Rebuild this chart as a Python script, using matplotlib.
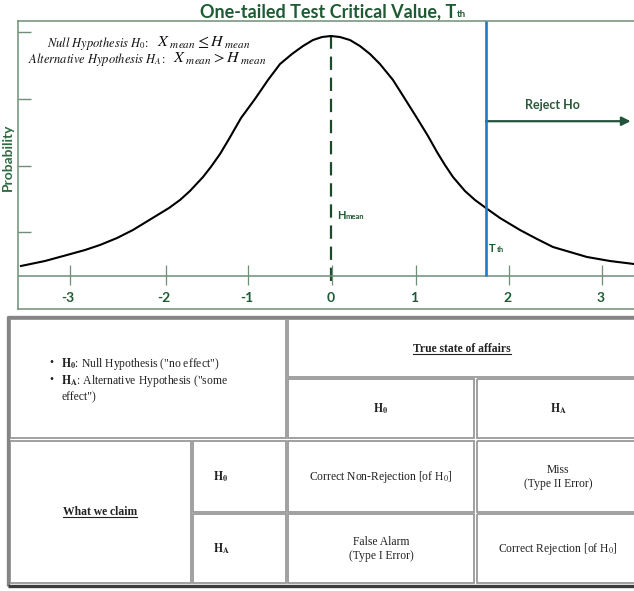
import matplotlib
matplotlib.use('Agg')
import matplotlib.pyplot as plt
from matplotlib.patches import Rectangle
from matplotlib.transforms import IdentityTransform

plt.rcParams['mathtext.fontset'] = 'stix'

# curve (x in sigma units, y arbitrary density)
curve_x = [-3.735, -3.446, -3.181, -2.964, -2.783, -2.578, -2.386, -2.181,
           -1.952, -1.819, -1.699, -1.542, -1.446, -1.337, -1.229, -1.084,
           -0.916, -0.759, -0.614, -0.470, -0.337, -0.217, -0.108, 0.0,
           0.108, 0.229, 0.349, 0.470, 0.590, 0.747, 0.892, 1.036, 1.169,
           1.277, 1.373, 1.470, 1.614, 1.735, 1.867, 2.036, 2.277, 2.482,
           2.675, 2.880, 3.084, 3.361, 3.651]
curve_y = [0.0167, 0.025, 0.035, 0.0433, 0.0517, 0.0633, 0.0767, 0.094,
           0.1133, 0.1267, 0.1417, 0.165, 0.182, 0.2033, 0.2283, 0.2633,
           0.295, 0.3267, 0.3533, 0.370, 0.3833, 0.3933, 0.3983, 0.400,
           0.3983, 0.3933, 0.3833, 0.370, 0.3533, 0.3267, 0.295, 0.2633,
           0.2333, 0.2067, 0.185, 0.165, 0.1417, 0.1267, 0.1133, 0.0967,
           0.0767, 0.0617, 0.0483, 0.040, 0.0317, 0.025, 0.020]
h_mean = 0.0
t_th = 1.867
arrow_end = 3.61
xtick_pos = [-3.145, -1.988, -1.0, 0.012, 1.024, 2.145, 3.265]
xtick_labels = ['-3', '-2', '-1', '0', '1', '2', '3']
ytick_pos = [0.407, 0.295, 0.183, 0.073]

# table text
bullets = [r'$\mathbf{H_0}$: Null Hypothesis ("no effect")',
           r'$\mathbf{H_A}$: Alternative Hypothesis ("some',
           'effect")']
true_header = 'True state of affairs'
claim_header = 'What we claim'
state_labels = [r'$\mathbf{H_0}$', r'$\mathbf{H_A}$']
outcomes = [['Correct Non-Rejection [of H$_0$]', 'Miss\n(Type II Error)'],
            ['False Alarm\n(Type I Error)', 'Correct Rejection [of H$_0$]']]

W, H = 634, 591
GREEN = '#1f5a33'
FRAME = '#6f8f77'

fig = plt.figure(figsize=(W / 100, H / 100), dpi=100)
renderer = fig.canvas.get_renderer()


def text_after(prev, s, gap=1, dy=0, **kw):
    """put a text right after another one, on the same baseline"""
    bb = prev.get_window_extent(renderer)
    x0, y0 = prev.get_transform().transform(prev.get_position())
    return fig.text(bb.x1 + gap, y0 - dy, s, transform=IdentityTransform(),
                    va='baseline', **kw)


def px(x, y):
    return x / W, 1 - y / H


# ---------------- chart ----------------
ax = fig.add_axes([18 / W, 1 - 309 / H, 616 / W, 288 / H])
ax.set_xlim(-3.771, 3.651)
ax.set_ylim(-0.055, 0.425)

ax.plot(curve_x, curve_y, color='black', lw=1.5, zorder=3,
        solid_joinstyle='round')
ax.vlines(h_mean, -0.008, max(curve_y), color='#1c4a2b', lw=1.6,
          linestyles=[(0, (6, 3.5))], zorder=2)
ax.vlines(t_th, 0, 0.425, color='#1f78c8', lw=1.9, zorder=4)
ax.axhline(0, color=FRAME, lw=1.1)
ax.vlines(xtick_pos, -0.015, 0.018, color=FRAME, lw=0.9)
for p, lbl in zip(xtick_pos, xtick_labels):
    ax.text(p - 0.02, -0.036, lbl, ha='center', va='center', color=GREEN,
            fontfamily='Lato', fontweight='bold', fontsize=10)

ax.set_xticks([])
ax.set_yticks(ytick_pos)
ax.tick_params(axis='y', direction='in', length=9, width=1, color=FRAME,
               labelleft=False)
for side in ['left', 'top', 'bottom']:
    ax.spines[side].set_color(FRAME)
    ax.spines[side].set_linewidth(1.1)
ax.spines['right'].set_visible(False)

ax.annotate('', xy=(arrow_end, 0.258), xytext=(t_th, 0.258),
            arrowprops=dict(arrowstyle='-|>', color='#24523a', lw=1.6,
                            mutation_scale=13, shrinkA=0, shrinkB=0))
ax.text((t_th + arrow_end) / 2 - 0.07, 0.285, 'Reject Ho', ha='center',
        va='center', color='#2a5a3a', fontfamily='Lato', fontweight='bold',
        fontsize=9)

hm = ax.text(h_mean + 0.07, 0.095, 'H', color=GREEN, fontfamily='Lato',
             fontweight='bold', fontsize=8, va='baseline')
text_after(hm, 'mean', gap=0.5, color=GREEN, fontfamily='Lato',
           fontweight='bold', fontsize=5.5)
tt = ax.text(t_th + 0.04, 0.04, 'T', color=GREEN, fontfamily='Lato',
             fontweight='bold', fontsize=8, va='baseline')
text_after(tt, 'th', gap=0.5, color=GREEN, fontfamily='Lato',
           fontweight='bold', fontsize=5.5)

# hypotheses
h1 = fig.text(*px(47, 47), r'$Null\ Hypothesis\ H_0\!:$', fontsize=9,
              va='baseline', color='#111111')
text_after(h1, r'$X_{\ mean} \leq H_{\ mean}$', gap=8, fontsize=11.5,
           color='#111111')
h2 = fig.text(*px(28, 63), r'$Alternative\ Hypothesis\ H_A\!:$', fontsize=9,
              va='baseline', color='#111111')
text_after(h2, r'$X_{\ mean} > H_{\ mean}$', gap=8, fontsize=11.5,
           color='#111111')

title = fig.text(*px(200, 17), 'One-tailed Test Critical Value, T',
                 fontfamily='Lato', fontweight='bold', fontsize=13,
                 color=GREEN, va='baseline')
text_after(title, 'th', gap=0.5, fontfamily='Lato', fontweight='bold',
           fontsize=7, color=GREEN)

fig.text(*px(8, 157), 'Probability', rotation=90, ha='center', va='center',
         fontfamily='Lato', fontweight='bold', fontsize=10, color='#2e6b40')

# ---------------- table ----------------
tax = fig.add_axes([0, 0, 1, (H - 310) / H])
tax.set_xlim(0, W)
tax.set_ylim(H, 310)
tax.axis('off')

SERIF = dict(fontfamily='Liberation Serif', fontsize=8.4, color='#222222')

# outer border (outset look)
tax.plot([7.5, 7.5, 640], [586, 317, 317], color='#858585', lw=2.4,
         solid_capstyle='butt')
tax.plot([7.5, 640], [586, 586], color='#3c3c3c', lw=2.4,
         solid_capstyle='butt')

cells = [(10, 286, 319, 438), (288, 640, 319, 377), (288, 474, 379, 438),
         (477, 640, 379, 438), (10, 191, 441, 583), (193, 286, 441, 512),
         (288, 474, 441, 512), (477, 640, 441, 512), (193, 286, 514, 583),
         (288, 474, 514, 583), (477, 640, 514, 583)]
for x0, x1, y0, y1 in cells:
    tax.add_patch(Rectangle((x0, y0), x1 - x0, y1 - y0, fill=False,
                            edgecolor='#999999', lw=1.3))

for i, line in enumerate(bullets):
    y = 367 + i * 16.5
    if i < 2:
        tax.text(51, y - 1, '\u2022', ha='center', va='baseline', **SERIF)
    tax.text(61, y, line, va='baseline', **SERIF)


def underlined(x, y, s):
    t = tax.text(x, y, s, ha='center', va='baseline', fontweight='bold',
                 **SERIF)
    bb = t.get_window_extent(renderer)
    tax.plot([bb.x0, bb.x1], [y + 1.5, y + 1.5], color='#222222', lw=0.8)


underlined(462, 352, true_header)
underlined(100, 515, claim_header)

col_x = [381, 558]
for cx, lbl in zip(col_x, state_labels):
    tax.text(cx, 409, lbl, ha='center', va='center', **SERIF)
row_y = [477, 549]
for ry, lbl in zip(row_y, state_labels):
    tax.text(213, ry, lbl, ha='left', va='center', **SERIF)
for ry, row in zip(row_y, outcomes):
    for cx, s in zip(col_x, row):
        tax.text(cx, ry, s, ha='center', va='center', linespacing=1.2,
                 **SERIF)

fig.savefig('out.png', dpi=100)
